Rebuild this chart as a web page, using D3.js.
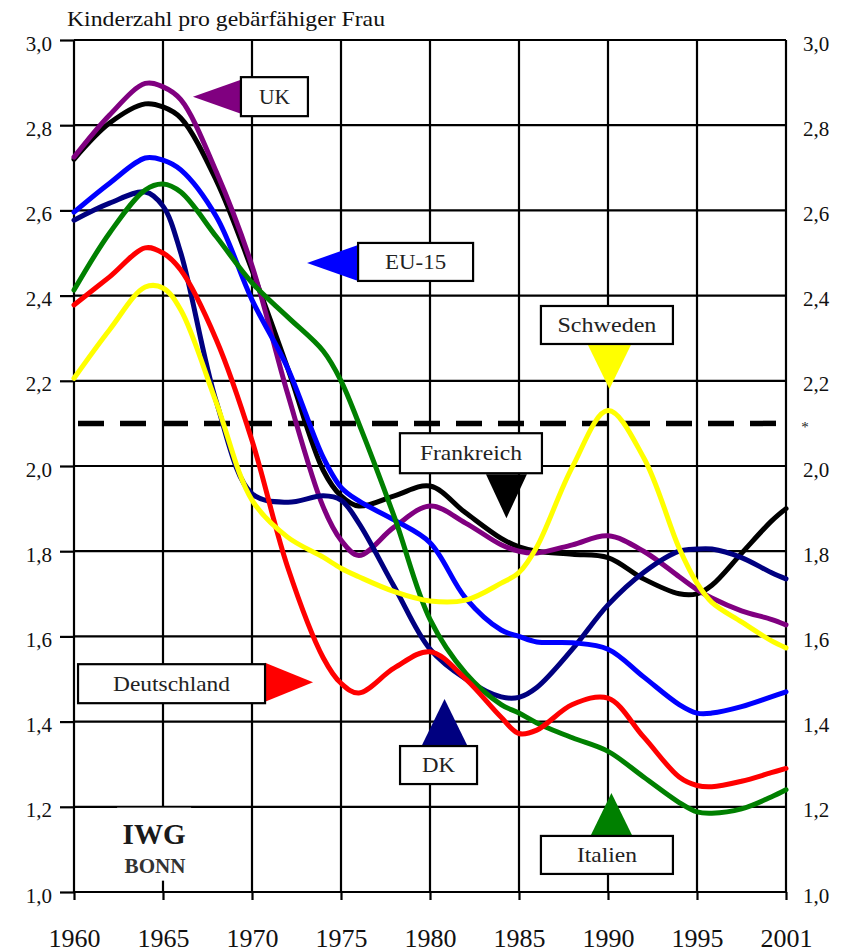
<!DOCTYPE html>
<html>
<head>
<meta charset="utf-8">
<script src="https://cdn.jsdelivr.net/npm/d3@7"></script>
<style>
  body { margin: 0; background: #fff; }
  svg { display: block; }
  svg text { font-family: "Liberation Serif", "Times New Roman", serif !important; }
</style>
</head>
<body>
<svg id="chart" width="850" height="952"></svg>
<script>
// Werte
let years = [1960, 1962, 1964, 1965, 1966, 1968, 1970, 1972, 1974, 1975, 1976, 1978, 1980,
             1982, 1984, 1985, 1986, 1988, 1990, 1992, 1994, 1995, 1996, 1998, 2000, 2001]

let uk = [2.725, 2.824, 2.898, 2.89, 2.86, 2.69, 2.47, 2.17, 1.904, 1.826, 1.79, 1.857, 1.906,
          1.866, 1.815, 1.80, 1.796, 1.815, 1.836, 1.80, 1.74, 1.71, 1.69, 1.66, 1.64, 1.627]
let frankreich = [2.72, 2.805, 2.85, 2.843, 2.817, 2.67, 2.46, 2.23, 1.99, 1.93, 1.906, 1.93, 1.953,
                  1.89, 1.83, 1.81, 1.80, 1.793, 1.785, 1.735, 1.70, 1.70, 1.72, 1.795, 1.87, 1.90]
let eu15 = [2.596, 2.664, 2.723, 2.718, 2.695, 2.585, 2.39, 2.23, 2.02, 1.95, 1.918, 1.873, 1.82,
            1.69, 1.615, 1.60, 1.587, 1.585, 1.57, 1.505, 1.44, 1.42, 1.42, 1.435, 1.458, 1.47]
let dk = [2.577, 2.617, 2.643, 2.61, 2.50, 2.15, 1.935, 1.915, 1.93, 1.92, 1.866, 1.716, 1.57,
          1.50, 1.458, 1.457, 1.48, 1.57, 1.674, 1.75, 1.80, 1.805, 1.805, 1.785, 1.75, 1.735]
let italien = [2.413, 2.547, 2.648, 2.662, 2.643, 2.538, 2.43, 2.35, 2.27, 2.20, 2.10, 1.88, 1.64,
               1.514, 1.44, 1.42, 1.397, 1.362, 1.33, 1.27, 1.21, 1.188, 1.185, 1.195, 1.223, 1.24]
let deutschland = [2.378, 2.444, 2.512, 2.50, 2.46, 2.296, 2.06, 1.763, 1.55, 1.49, 1.467, 1.526, 1.564,
                   1.50, 1.41, 1.372, 1.38, 1.44, 1.455, 1.364, 1.27, 1.25, 1.247, 1.26, 1.28, 1.29]
let schweden = [2.206, 2.32, 2.42, 2.418, 2.366, 2.148, 1.92, 1.833, 1.786, 1.76, 1.74, 1.705, 1.683,
                1.685, 1.725, 1.75, 1.81, 1.998, 2.13, 2.02, 1.807, 1.725, 1.68, 1.634, 1.59, 1.573]

let xTicks = [1960, 1965, 1970, 1975, 1980, 1985, 1990, 1995, 2001]
let yTicks = [1.0, 1.2, 1.4, 1.6, 1.8, 2.0, 2.2, 2.4, 2.6, 2.8, 3.0]
let replacementLevel = 2.1

let series = [
  {name: 'Frankreich', color: '#000000', values: frankreich},
  {name: 'UK', color: '#800080', values: uk},
  {name: 'DK', color: '#000080', values: dk},
  {name: 'EU-15', color: '#0000ff', values: eu15},
  {name: 'Italien', color: '#008000', values: italien},
  {name: 'Deutschland', color: '#ff0000', values: deutschland},
  {name: 'Schweden', color: '#ffff00', values: schweden}
]

// Beschriftungskästen: Mitte in Daten-Koordinaten, Pfeil an einer Kante
let labels = [
  {text: 'UK', color: '#800080', year: 1971.26, value: 2.867, w: 67, h: 39, tw: 31, side: 'left', off: 0, len: 48, half: 17},
  {text: 'EU-15', color: '#0000ff', year: 1979.19, value: 2.479, w: 115, h: 38, tw: 61, side: 'left', off: 1, len: 51, half: 18},
  {text: 'Schweden', color: '#ffff00', year: 1989.94, value: 2.331, w: 132, h: 38, tw: 99, side: 'bottom', off: 2.5, len: 44, half: 21.5},
  {text: 'Frankreich', color: '#000000', year: 1982.30, value: 2.030, w: 142, h: 40, tw: 102, side: 'bottom', off: 35.5, len: 44, half: 20.5},
  {text: 'Deutschland', color: '#ff0000', year: 1965.48, value: 1.489, w: 187, h: 39, tw: 117, side: 'right', off: -1.5, len: 48, half: 19.5},
  {text: 'DK', color: '#000080', year: 1980.48, value: 1.298, w: 77, h: 38, tw: 33, side: 'top', off: 6, len: 46, half: 22.5},
  {text: 'Italien', color: '#008000', year: 1989.94, value: 1.087, w: 132, h: 38, tw: 60, side: 'top', off: 4.5, len: 42, half: 20.5}
]

let svg = d3.select('#chart')

let x = d3.scaleLinear().domain([1960, 1995, 2001]).range([74, 697, 786])
let y = d3.scaleLinear().domain([1.0, 3.0]).range([892, 40])

let deFormat = d3.formatLocale({decimal: ',', thousands: '.', grouping: [3], currency: ['', ' €']}).format('.1f')

// Titel
svg.append('text')
  .attr('x', 67).attr('y', 26)
  .attr('font-size', 22)
  .attr('textLength', 318).attr('lengthAdjust', 'spacingAndGlyphs')
  .attr('fill', '#111')
  .text('Kinderzahl pro gebärfähiger Frau')

// Gitter
let grid = svg.append('g').attr('stroke', '#000').attr('stroke-width', 2.2)
grid.selectAll('.h').data(yTicks).enter().append('line')
  .attr('x1', x(1960)).attr('x2', x(2001))
  .attr('y1', d => y(d)).attr('y2', d => y(d))
grid.selectAll('.v').data(xTicks).enter().append('line')
  .attr('x1', d => x(d)).attr('x2', d => x(d))
  .attr('y1', y(3.0)).attr('y2', y(1.0))

// Achsen
let gLeft = svg.append('g').attr('transform', `translate(${x(1960)},0)`)
  .call(d3.axisLeft(y).tickValues(yTicks).tickSize(14).tickPadding(8).tickFormat(deFormat))
let gRight = svg.append('g').attr('transform', `translate(${x(2001)},0)`)
  .call(d3.axisRight(y).tickValues(yTicks).tickSize(0).tickPadding(17).tickFormat(deFormat))
let gBottom = svg.append('g').attr('transform', `translate(0,${y(1.0)})`)
  .call(d3.axisBottom(x).tickValues(xTicks).tickSize(8).tickFormat(d => d))

;[gLeft, gRight, gBottom].forEach(g => {
  g.attr('font-family', null)
  g.select('.domain').remove()
  g.selectAll('line').attr('stroke', '#000').attr('stroke-width', 2.2)
  g.selectAll('text').attr('fill', '#111')
})
gLeft.selectAll('text').attr('font-size', 21).attr('dy', '0.48em')
gRight.selectAll('text').attr('font-size', 21).attr('dy', '0.48em')
gBottom.selectAll('text').attr('font-size', 26).attr('y', 55).attr('dy', 0)

// Bestandserhaltungsniveau
svg.append('line')
  .attr('x1', x(1960) + 4).attr('x2', x(2001) - 9)
  .attr('y1', y(replacementLevel)).attr('y2', y(replacementLevel))
  .attr('stroke', '#000').attr('stroke-width', 5.5)
  .attr('stroke-dasharray', '26,16')
svg.append('text')
  .attr('x', x(2001) + 19).attr('y', y(replacementLevel) + 9)
  .attr('font-size', 15).attr('text-anchor', 'middle').attr('fill', '#222')
  .text('*')

// Kurven
let line = d3.line()
  .x((d, i) => x(years[i]))
  .y(d => y(d))
  .curve(d3.curveCatmullRom.alpha(0.5))

svg.append('g').selectAll('path').data(series).enter().append('path')
  .attr('d', s => line(s.values))
  .attr('fill', 'none')
  .attr('stroke', s => s.color)
  .attr('stroke-width', 5)
  .attr('stroke-linejoin', 'round')
  .attr('stroke-linecap', 'round')

// IWG BONN
let logoX = x(1964.5)
svg.append('rect')
  .attr('x', logoX - 37).attr('y', y(1.198))
  .attr('width', 74).attr('height', 73)
  .attr('fill', '#fff')
svg.append('text')
  .attr('x', logoX).attr('y', y(1.113))
  .attr('text-anchor', 'middle').attr('font-size', 30).attr('font-weight', 'bold')
  .attr('textLength', 63).attr('lengthAdjust', 'spacingAndGlyphs')
  .attr('fill', '#1a1a1a')
  .text('IWG')
svg.append('text')
  .attr('x', logoX + 1).attr('y', y(1.045))
  .attr('text-anchor', 'middle').attr('font-size', 21).attr('font-weight', 'bold')
  .attr('textLength', 61).attr('lengthAdjust', 'spacingAndGlyphs')
  .attr('fill', '#333')
  .text('BONN')

// Beschriftungen mit Pfeilen
let pointer = (lb, cx, cy) => {
  let pts
  if (lb.side === 'left') {
    let bx = cx - lb.w / 2, by = cy + lb.off
    pts = [[bx, by - lb.half], [bx, by + lb.half], [bx - lb.len, by]]
  } else if (lb.side === 'right') {
    let bx = cx + lb.w / 2, by = cy + lb.off
    pts = [[bx, by - lb.half], [bx, by + lb.half], [bx + lb.len, by]]
  } else if (lb.side === 'bottom') {
    let bx = cx + lb.off, by = cy + lb.h / 2 + 1
    pts = [[bx - lb.half, by], [bx + lb.half, by], [bx, by + lb.len]]
  } else {
    let bx = cx + lb.off, by = cy - lb.h / 2 - 1
    pts = [[bx - lb.half, by], [bx + lb.half, by], [bx, by - lb.len]]
  }
  return 'M' + pts.map(p => p.join(',')).join('L') + 'Z'
}

let lab = svg.append('g').selectAll('g').data(labels).enter().append('g')
lab.append('path')
  .attr('d', lb => pointer(lb, x(lb.year), y(lb.value)))
  .attr('fill', lb => lb.color)
lab.append('rect')
  .attr('x', lb => x(lb.year) - lb.w / 2)
  .attr('y', lb => y(lb.value) - lb.h / 2)
  .attr('width', lb => lb.w).attr('height', lb => lb.h)
  .attr('fill', '#fff').attr('stroke', '#000').attr('stroke-width', 2.2)
lab.append('text')
  .attr('x', lb => x(lb.year))
  .attr('y', lb => y(lb.value) + 7)
  .attr('text-anchor', 'middle')
  .attr('font-size', 21)
  .attr('textLength', lb => lb.tw).attr('lengthAdjust', 'spacingAndGlyphs')
  .attr('fill', '#222')
  .text(lb => lb.text)
</script>
</body>
</html>
